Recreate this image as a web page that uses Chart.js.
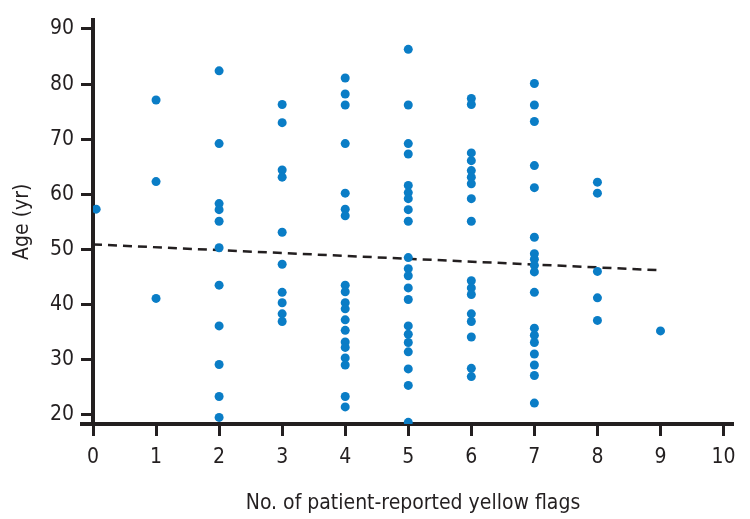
<!DOCTYPE html>
<html>
<head>
<meta charset="utf-8">
<script src="https://cdn.jsdelivr.net/npm/chart.js@4/dist/chart.umd.min.js"></script>
<style>
  html, body { margin: 0; padding: 0; background: #fff; }
  #wrap { width: 750px; height: 519px; position: relative; }
</style>
</head>
<body>
<div id="wrap"><canvas id="flagsChart"></canvas></div>
<script>
// Age vs number of patient-reported yellow flags

// number of flags for each column of points
const flagCounts = [0, 1, 2, 3, 4, 5, 6, 7, 8, 9];

// ages, one list per flag count
const agesByFlags = [
    [57.3],
    [77.1, 62.3, 41.1],
    [82.4, 69.2, 58.3, 57.2, 55.1, 50.3, 43.5, 36.1, 29.1, 23.3, 19.5],
    [76.3, 73.0, 64.4, 63.1, 53.1, 47.3, 42.2, 40.3, 38.3, 36.9],
    [81.1, 78.2, 76.2, 69.2, 60.2, 57.3, 56.1, 43.5, 42.3, 40.3, 39.2, 37.2, 35.3, 33.2, 32.2, 30.3, 29.0, 23.3, 21.4],
    [86.3, 76.2, 69.2, 67.3, 61.6, 60.3, 59.2, 57.2, 55.1, 48.5, 46.5, 45.2, 43.0, 40.9, 36.1, 34.6, 33.1, 31.4, 28.3, 25.3, 18.6],
    [77.4, 76.3, 67.5, 66.1, 64.3, 63.1, 61.9, 59.2, 55.1, 44.3, 43.0, 41.8, 38.3, 36.9, 34.1, 28.4, 26.9],
    [80.1, 76.2, 73.2, 65.2, 61.2, 52.2, 49.2, 48.2, 47.1, 45.9, 42.2, 35.7, 34.4, 33.1, 31.0, 29.0, 27.1, 22.1],
    [62.2, 60.2, 46.0, 41.2, 37.1],
    [35.2]
];

// dashed fitted line
const trendX = [0, 9];
const trendY = [50.9, 46.2];

// axis ticks
const xTickValues = [0, 1, 2, 3, 4, 5, 6, 7, 8, 9, 10];
const yTickValues = [20, 30, 40, 50, 60, 70, 80, 90];

const ink = '#231f20';
const dotColor = '#0a7dc6';
const labelFont = { family: "'Liberation Sans Narrow', 'DejaVu Sans Condensed', 'Liberation Sans', sans-serif", size: 21 };

// build point list from the arrays
const points = [];
flagCounts.forEach(function(n, i) {
    agesByFlags[i].forEach(function(age) {
        points.push({ x: n === 0 ? 0.05 : n, y: age });
    });
});
const trendPoints = trendX.map(function(x, i) { return { x: x, y: trendY[i] }; });

function fixedTicks(values) {
    return function(scale) {
        scale.ticks = values.map(function(v) { return { value: v }; });
    };
}

// the x axis line runs a bit past the y axis on the left, like the original
const axisStub = {
    id: 'axisStub',
    afterDraw: function(chart) {
        const ctx = chart.ctx;
        const area = chart.chartArea;
        ctx.save();
        ctx.strokeStyle = ink;
        ctx.lineWidth = 4;
        ctx.beginPath();
        ctx.moveTo(area.left - 13, area.bottom);
        ctx.lineTo(area.left, area.bottom);
        ctx.stroke();
        ctx.restore();
    }
};

new Chart(document.getElementById('flagsChart').getContext('2d'), {
    type: 'scatter',
    data: {
        datasets: [{
            label: 'Patients',
            data: points,
            backgroundColor: dotColor,
            borderColor: dotColor,
            pointRadius: 4.5,
            pointBorderWidth: 0
        }, {
            label: 'Trend',
            type: 'line',
            data: trendPoints,
            borderColor: ink,
            borderWidth: 2.5,
            borderDash: [9, 6],
            pointRadius: 0,
            fill: false
        }]
    },
    options: {
        responsive: true,
        maintainAspectRatio: false,
        animation: false,
        layout: { padding: { top: 18, right: 17, left: 0, bottom: 0 } },
        plugins: {
            legend: { display: false },
            tooltip: { enabled: false }
        },
        scales: {
            x: {
                type: 'linear',
                min: 0,
                max: 10.15,
                z: 1,
                afterBuildTicks: fixedTicks(xTickValues),
                afterFit: function(scale) { scale.height = 95; },
                border: { display: true, color: ink, width: 4 },
                grid: { drawOnChartArea: false, drawTicks: true, tickLength: 12, tickWidth: 3, tickColor: ink },
                ticks: { color: ink, font: labelFont, padding: 9, maxRotation: 0 },
                title: {
                    display: true,
                    text: 'No. of patient-reported yellow flags',
                    color: ink,
                    font: labelFont,
                    padding: { top: 0, bottom: 3 }
                }
            },
            y: {
                type: 'linear',
                min: 18.3,
                max: 91.7,
                z: 1,
                afterBuildTicks: fixedTicks(yTickValues),
                afterFit: function(scale) { scale.width = 93; },
                border: { display: true, color: ink, width: 4 },
                grid: { drawOnChartArea: false, drawTicks: true, tickLength: 12, tickWidth: 3, tickColor: ink },
                ticks: { color: ink, font: labelFont, padding: 7 },
                title: {
                    display: true,
                    text: 'Age (yr)',
                    color: ink,
                    font: labelFont,
                    padding: { top: 10, bottom: 0 }
                }
            }
        }
    },
    plugins: [axisStub]
});
</script>
</body>
</html>
